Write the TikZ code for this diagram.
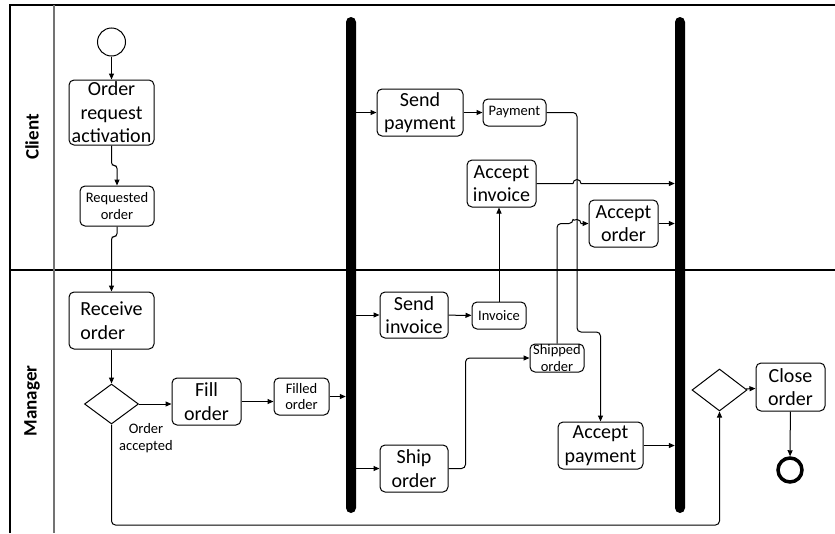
\documentclass[tikz,border=0pt]{standalone}
\usepackage{fontspec}
\setmainfont{Carlito}
\usetikzlibrary{arrows.meta,shapes.geometric}

\newcommand\bigtxt{\fontsize{20}{23.5}\selectfont}
\newcommand\smalltxt{\fontsize{14.5}{16.5}\selectfont}

\begin{document}
\begin{tikzpicture}[x=1pt,y=-1pt,
  act/.style={draw, rounded corners=5, align=center, inner sep=0, line width=1, font=\bigtxt},
  obj/.style={draw, rounded corners=5, align=center, inner sep=0, line width=1, font=\smalltxt},
  bar/.style={fill=black, rounded corners=5, minimum width=10, minimum height=496, inner sep=0},
  dec/.style={draw, diamond, inner sep=0, line width=1},
  flow/.style={line width=1, -{Triangle[length=6pt,width=5pt]}},
  lane/.style={font=\fontsize{19}{22}\selectfont\bfseries, rotate=90}]

\useasboundingbox (0,0) rectangle (835,533);

% === Swimlane frame ===
\draw[line width=1.2] (10,533) -- (10,5) -- (835,5);
\draw[line width=1.2] (10,270) -- (835,270);
\draw[line width=1.5, black!55] (54,5) -- (54,533);
\node[lane] (client) at (32,137) {Client};
\node[lane] (manager) at (32,401) {Manager};

% === Sync bars ===
\node[bar] (bar1) at (351,265) {};
\node[bar] (bar2) at (680,265) {};

% === Client lane ===
\node[draw, circle, minimum size=28, line width=1] (start) at (111.5,42) {};
\node[act, minimum width=85, minimum height=65] (ora) at (111.5,112.5) {Order\\request\\activation};
\node[obj, minimum width=74, minimum height=40] (req) at (117,206) {Requested\\order};
\node[act, minimum width=86, minimum height=47] (sendpay) at (420,112.5) {Send\\payment};
\node[obj, minimum width=63, minimum height=27] (pay) at (514.5,112.5) {Payment};
\node[act, minimum width=69, minimum height=47] (accinv) at (501.5,183.5) {Accept\\invoice};
\node[act, minimum width=69, minimum height=47] (accord) at (623.5,223.5) {Accept\\order};

% === Manager lane ===
\node[act, align=left, minimum width=85, minimum height=57] (recv) at (111.5,320.5) {Receive\\order};
\node[dec, minimum width=54, minimum height=40] (dec1) at (111.5,404) {};
\node[font=\smalltxt, align=center] (acclbl) at (146,438) {Order\\accepted};
\node[act, minimum width=69, minimum height=47] (fill) at (206.5,401.5) {Fill\\order};
\node[obj, minimum width=55, minimum height=37] (filled) at (301.5,396.5) {Filled\\order};
\node[act, minimum width=68, minimum height=46] (sendinv) at (414,315) {Send\\invoice};
\node[obj, minimum width=54, minimum height=27] (inv) at (499,315.5) {Invoice};
\node[obj, minimum width=54, minimum height=28] (shipped) at (557,358) {Shipped\\order};
\node[act, minimum width=68, minimum height=47] (ship) at (414,468.5) {Ship\\order};
\node[act, minimum width=85, minimum height=47] (accpay) at (600.5,445.5) {Accept\\payment};
\node[dec, minimum width=55, minimum height=42] (dec2) at (719.5,390) {};
\node[act, minimum width=69, minimum height=48] (close) at (790.5,387) {Close\\order};
\node[draw, circle, minimum size=24, line width=3.5] (stop) at (790,470) {};

% helper points
\coordinate (pv) at (577,332);
\coordinate (loopy) at (0,525);

% === Flows ===
\draw[flow] (start) -- (ora);
\draw[flow, rounded corners=3] (ora.south) -- ++(0,20) -| (req.north);
\draw[flow, rounded corners=3] (req.south) -- ++(0,10) -| (recv.north);
\draw[flow] (recv) -- (dec1);
\draw[flow] (dec1.east) -- (dec1.east -| fill.west);
\draw[flow] (fill.east) -- (fill.east -| filled.west);
\draw[flow] (filled.east) -- (filled.east -| bar1.west);

\draw[flow] (sendpay.west -| bar1.east) -- (sendpay.west);
\draw[flow] (sendinv.west -| bar1.east) -- (sendinv.west);
\draw[flow] (ship.west -| bar1.east) -- (ship.west);

\draw[flow] (sendpay) -- (pay);
\draw[flow] (sendinv) -- (inv);
\draw[flow] (inv.north) -- (inv.north |- accinv.south);
\draw[flow, rounded corners=4] (ship.east) -- ++(17,0) |- (shipped.west);
\draw[flow, rounded corners=4] (pay.east) -| (pv) -| (accpay.north);

% line hops over the payment line
\draw[flow] (shipped.north) [rounded corners=4] |- ([xshift=-4pt]accord.west -| pv)
  [sharp corners] arc[start angle=180, end angle=360, radius=4] -- (accord.west);
\draw[flow] (accinv.east) -- ([xshift=-4pt]accinv.east -| pv)
  arc[start angle=180, end angle=360, radius=4] -- (accinv.east -| bar2.west);

\draw[flow] (accord.east) -- (accord.east -| bar2.west);
\draw[flow] (accpay.east) -- (accpay.east -| bar2.west);

\draw[flow, rounded corners=4] (dec1.south) |- (dec2.south |- loopy) -- (dec2.south);
\draw[flow] (dec2) -- (close);
\draw[flow] (close) -- (stop);

\end{tikzpicture}
\end{document}
